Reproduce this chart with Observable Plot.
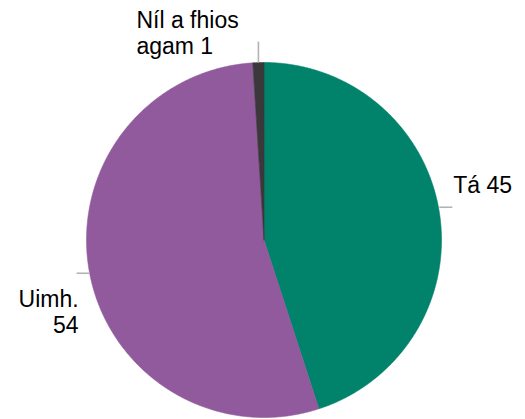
<!DOCTYPE html>
<html>
<head>
<meta charset="utf-8">
<script src="https://cdn.jsdelivr.net/npm/d3@7"></script>
<script src="https://cdn.jsdelivr.net/npm/@observablehq/plot@0.6"></script>
<style>
  html, body { margin: 0; padding: 0; background: #fff; }
  #chart svg { display: block; }
</style>
</head>
<body>
<div id="chart"></div>
<script>
// ---- data ----
const categories = ["Tá", "Uimh.", "Níl a fhios agam"];
const values = [45, 54, 1];
const colors = ["#00826b", "#915a9c", "#3a383b"];

// ---- layout (pixels) ----
const W = 525, H = 419, cx = 263.5, cy = 239.5, R = 177.5;
const xDomain = [-cx / R, (W - cx) / R];
const yDomain = [-(H - cy) / R, cy / R];

const total = d3.sum(values);
let acc = 0;
const slices = values.map((v, i) => {
  const a0 = acc / total * 2 * Math.PI;
  acc += v;
  const a1 = acc / total * 2 * Math.PI;
  return {cat: categories[i], value: v, a0, a1, mid: (a0 + a1) / 2, i};
});

// slice polygons in radius units (clockwise from top)
const polyPts = [];
slices.forEach(s => {
  polyPts.push({cat: s.cat, x: 0, y: 0});
  const n = Math.max(2, Math.ceil((s.a1 - s.a0) / (Math.PI / 360)));
  for (let k = 0; k <= n; k++) {
    const a = s.a0 + (s.a1 - s.a0) * k / n;
    polyPts.push({cat: s.cat, x: Math.sin(a), y: Math.cos(a)});
  }
  polyPts.push({cat: s.cat, x: 0, y: 0});
});

// label placement rules (style, not data)
const wrapAfter = (s, k) => {
  const w = s.cat.split(" ");
  return `${w.slice(0, k).join(" ")}\n${[...w.slice(k), s.value].join(" ")}`;
};
const place = [
  {dir: "h", len: 13, lift: 5, text: s => `${s.cat} ${s.value}`, anchor: "start", dx: 1, dy: -14},
  {dir: "h", len: 13, lift: 0, text: s => wrapAfter(s, 1), anchor: "end", dx: 2, dy: 60},
  {dir: "v", len: 21, lift: 0, text: s => wrapAfter(s, 3), anchor: "start", dx: -122, dy: 12}
];

const leaders = slices.map(s => {
  const p = place[s.i];
  const ax = Math.sin(s.mid), ay = Math.cos(s.mid) + p.lift / R;
  let x2 = ax, y2 = ay;
  if (p.dir === "h") x2 = ax + Math.sign(ax) * p.len / R;
  else y2 = ay + p.len / R;
  return {x1: ax, y1: ay, x2, y2, label: p.text(s), anchor: p.anchor, dx: p.dx, dy: p.dy};
});

const chart = Plot.plot({
  width: W,
  height: H,
  margin: 0,
  x: {domain: xDomain, axis: null},
  y: {domain: yDomain, axis: null},
  color: {domain: categories, range: colors},
  style: {background: "#fff", fontFamily: "'Liberation Sans', Arial, sans-serif"},
  marks: [
    Plot.line(polyPts, {x: "x", y: "y", z: "cat", fill: "cat", stroke: "cat", strokeWidth: 0.6, curve: "linear"}),
    Plot.link(leaders, {x1: "x1", y1: "y1", x2: "x2", y2: "y2", stroke: "#b3b3b3", strokeWidth: 1.6}),
    ...leaders.map(l => Plot.text([l], {
      x: "x2", y: "y2", text: "label",
      textAnchor: l.anchor, lineAnchor: "bottom", lineHeight: 26 / 23,
      dx: l.dx, dy: l.dy, fontSize: 23, fill: "#000"
    }))
  ]
});
document.getElementById("chart").appendChild(chart);
</script>
</body>
</html>
